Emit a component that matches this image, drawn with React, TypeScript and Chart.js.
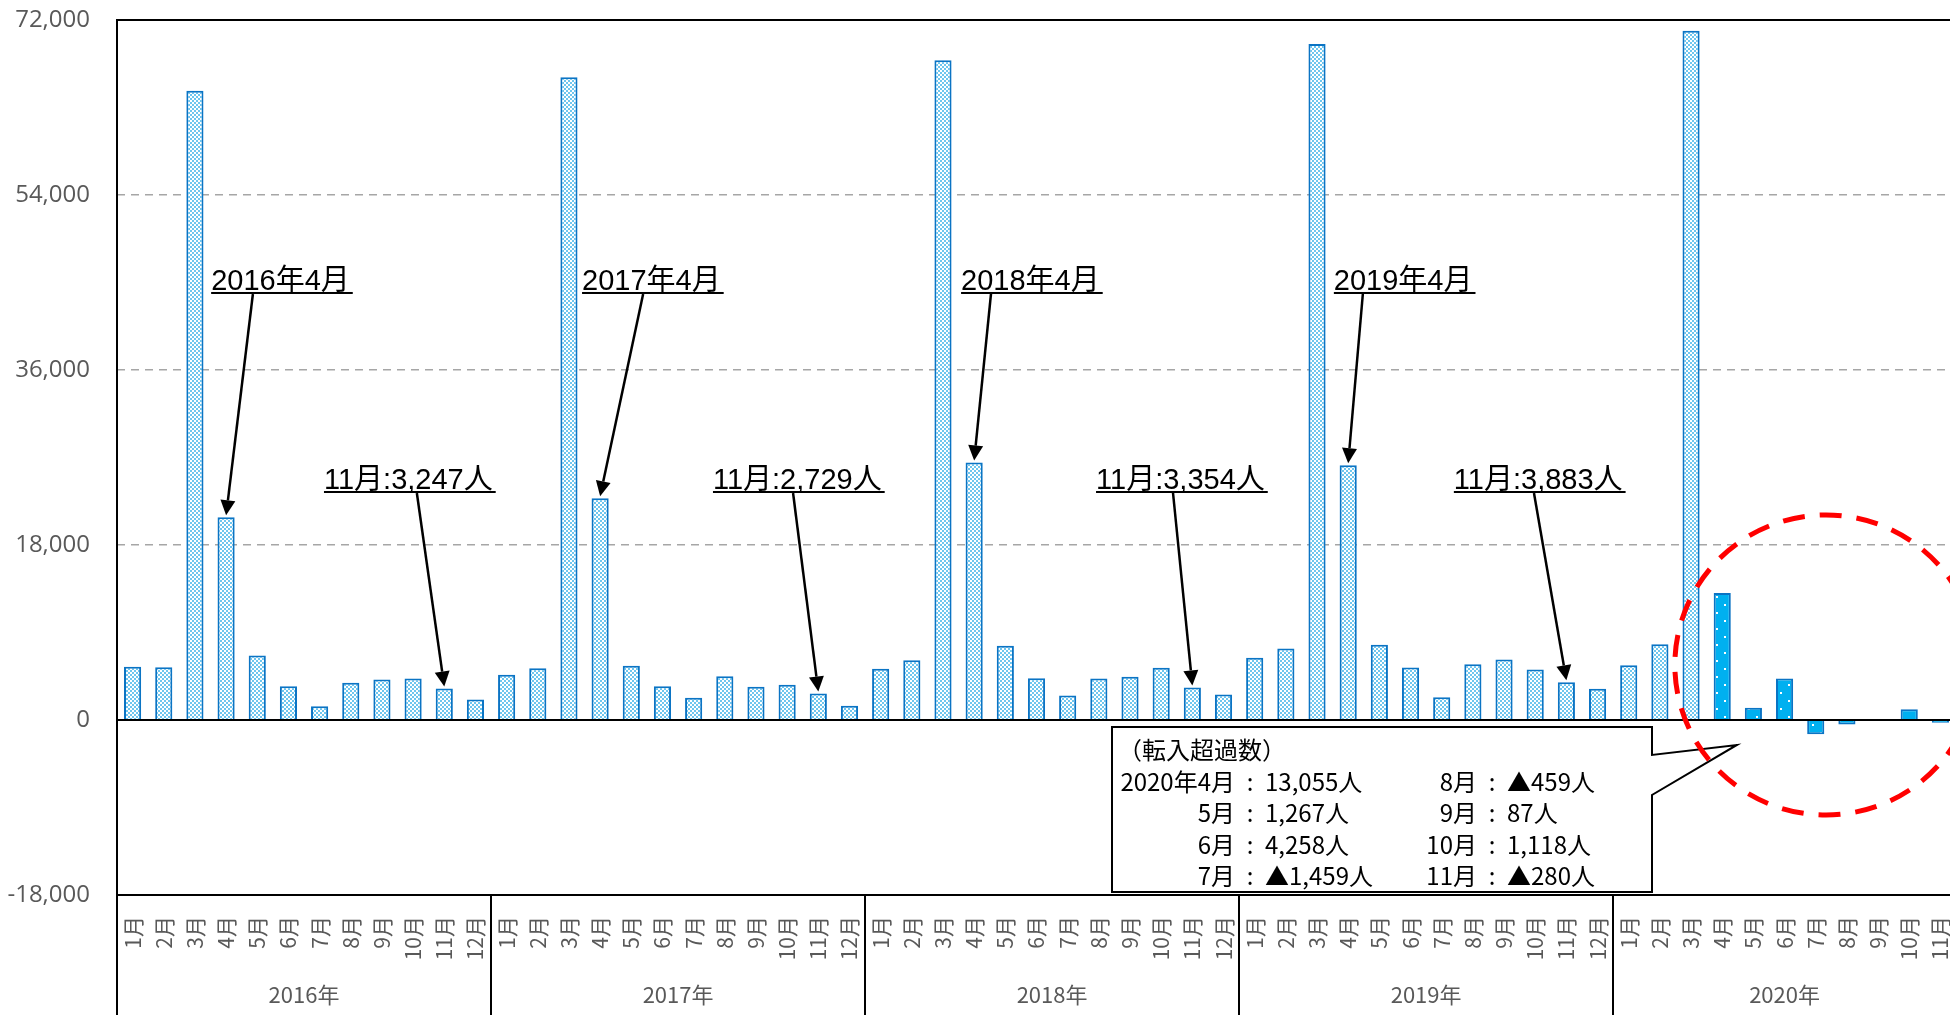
import React, { useEffect, useRef } from 'react';
import { Chart, registerables } from 'chart.js';

Chart.register(...registerables);

// ---------------- data ----------------
const monthNames = ['1月', '2月', '3月', '4月', '5月', '6月', '7月', '8月', '9月', '10月', '11月', '12月'];
const yearLabels = ['2016年', '2017年', '2018年', '2019年', '2020年'];

const y2016 = [5470, 5430, 64730, 20860, 6630, 3480, 1420, 3830, 4170, 4270, 3247, 2110];
const y2017 = [4650, 5330, 66100, 22810, 5570, 3480, 2280, 4510, 3410, 3620, 2729, 1460];
const y2018 = [5260, 6150, 67860, 26490, 7630, 4300, 2520, 4270, 4440, 5370, 3354, 2620];
const y2019 = [6400, 7350, 69530, 26210, 7730, 5400, 2350, 5740, 6220, 5190, 3883, 3210];
const y2020 = [5640, 7800, 70900, 13055, 1267, 4258, -1459, -459, 87, 1118, -280];

const yearValues = [y2016, y2017, y2018, y2019, y2020];

const yMin = -18000;
const yMax = 72000;
const yStep = 18000;

// first month (0-based) of 2020 drawn with the highlighted style
const highlightYear = 4;
const highlightMonth = 3;

// annotation labels: text anchor (category index, value), arrow start index, target bar
const yearNotes = [
  { year: 0, x: 2.52, y: 44230, from: 3.86, month: 3 },
  { year: 1, x: 14.42, y: 44230, from: 16.38, month: 3 },
  { year: 2, x: 26.58, y: 44230, from: 27.54, month: 3 },
  { year: 3, x: 38.54, y: 44230, from: 39.47, month: 3 },
];
const novNotes = [
  { year: 0, x: 6.14, y: 23760, from: 9.12, month: 10 },
  { year: 1, x: 18.62, y: 23760, from: 21.19, month: 10 },
  { year: 2, x: 30.91, y: 23760, from: 33.38, month: 10 },
  { year: 3, x: 42.39, y: 23760, from: 44.96, month: 10 },
];

const calloutTitle = '（転入超過数）';
const calloutLeftMonths = [3, 4, 5, 6];
const calloutRightMonths = [7, 8, 9, 10];
const callout = { left: 31.42, right: 48.75, top: -720, bottom: -17690, joinTop: -3600, joinBottom: -7710, tipX: 51.47, tipY: -2570 };
const circle = { x: 54.33, y: 5660, rx: 4.85, ry: 15430 };

// ---------------- helpers ----------------
const fmt = (v: number) => (v < 0 ? '▲' : '') + Math.abs(v).toLocaleString('en-US');

const labels: string[] = [];
const values: number[] = [];
yearValues.forEach((arr) => {
  arr.forEach((v, mi) => {
    labels.push(monthNames[mi]);
    values.push(v);
  });
});
const yearStart: number[] = [];
{
  let acc = 0;
  yearValues.forEach((a) => {
    yearStart.push(acc);
    acc += a.length;
  });
}
const idxOf = (year: number, month: number) => yearStart[year] + month;
const highlightIndex = idxOf(highlightYear, highlightMonth);

function makeChecker(ctx: CanvasRenderingContext2D) {
  const c = document.createElement('canvas');
  c.width = 4;
  c.height = 4;
  const g = c.getContext('2d')!;
  g.fillStyle = '#ffffff';
  g.fillRect(0, 0, 4, 4);
  g.fillStyle = '#6EC6EE';
  g.fillRect(0, 0, 2, 2);
  g.fillRect(2, 2, 2, 2);
  return ctx.createPattern(c, 'repeat')!;
}

function makeDots(ctx: CanvasRenderingContext2D) {
  const c = document.createElement('canvas');
  c.width = 16;
  c.height = 16;
  const g = c.getContext('2d')!;
  g.fillStyle = '#00B0F0';
  g.fillRect(0, 0, 16, 16);
  g.fillStyle = '#ffffff';
  g.fillRect(4, 4, 2, 2);
  g.fillRect(12, 12, 2, 2);
  return ctx.createPattern(c, 'repeat')!;
}

function drawArrow(ctx: CanvasRenderingContext2D, x1: number, y1: number, x2: number, y2: number) {
  const ang = Math.atan2(y2 - y1, x2 - x1);
  const head = 15;
  const hw = 7.5;
  const bx = x2 - head * Math.cos(ang);
  const by = y2 - head * Math.sin(ang);
  ctx.beginPath();
  ctx.moveTo(x1, y1);
  ctx.lineTo(bx, by);
  ctx.stroke();
  ctx.beginPath();
  ctx.moveTo(x2, y2);
  ctx.lineTo(bx + hw * Math.sin(ang), by - hw * Math.cos(ang));
  ctx.lineTo(bx - hw * Math.sin(ang), by + hw * Math.cos(ang));
  ctx.closePath();
  ctx.fill();
}

const decor = {
  id: 'decor',
  afterDatasetsDraw(chart: any) {
    const { ctx, chartArea: a, scales } = chart;
    const x = scales.x;
    const y = scales.y;
    const H = chart.height;
    ctx.save();

    // frame / zero lines
    ctx.strokeStyle = '#000';
    ctx.lineWidth = 2;
    ctx.setLineDash([]);
    [yMax, 0, yMin].forEach((v) => {
      const py = Math.round(y.getPixelForValue(v));
      ctx.beginPath();
      ctx.moveTo(a.left, py);
      ctx.lineTo(a.right, py);
      ctx.stroke();
    });
    ctx.beginPath();
    ctx.moveTo(a.left, a.top - 1);
    ctx.lineTo(a.left, H);
    ctx.stroke();

    // year dividers and labels
    ctx.font = '22px "Noto Sans CJK JP", sans-serif';
    ctx.fillStyle = '#595959';
    ctx.textAlign = 'center';
    ctx.textBaseline = 'middle';
    yearValues.forEach((arr, yi) => {
      const s = yearStart[yi];
      if (yi > 0) {
        const px = Math.round(x.getPixelForValue(s - 0.5));
        ctx.beginPath();
        ctx.moveTo(px, a.bottom);
        ctx.lineTo(px, H);
        ctx.stroke();
      }
      const c1 = x.getPixelForValue(s - 0.5);
      const c2 = x.getPixelForValue(s + arr.length - 0.5);
      ctx.fillText(yearLabels[yi], (c1 + c2) / 2, a.bottom + 100);
    });

    // arrow annotations
    ctx.fillStyle = '#000';
    ctx.strokeStyle = '#000';
    ctx.lineWidth = 2.5;
    ctx.textAlign = 'left';
    ctx.textBaseline = 'alphabetic';
    ctx.font = '29px "Liberation Sans", "Noto Sans CJK JP", sans-serif';
    const notes = [
      ...yearNotes.map((n) => ({ ...n, text: `${yearLabels[n.year]}${monthNames[n.month]}` })),
      ...novNotes.map((n) => ({ ...n, text: `${monthNames[n.month]}:${yearValues[n.year][n.month].toLocaleString('en-US')}人` })),
    ];
    notes.forEach((n) => {
      const tx = x.getPixelForValue(n.x);
      const ty = y.getPixelForValue(n.y);
      ctx.fillText(n.text, tx, ty);
      const w = ctx.measureText(n.text).width;
      ctx.fillRect(tx, ty + 2, w + 3, 2);
      const bi = idxOf(n.year, n.month);
      const ax = x.getPixelForValue(n.from);
      const bx = x.getPixelForValue(bi);
      const by = y.getPixelForValue(values[bi]) - 2;
      drawArrow(ctx, ax, ty + 4, bx, by);
    });

    // callout box
    const L = Math.round(x.getPixelForValue(callout.left));
    const R = Math.round(x.getPixelForValue(callout.right));
    const T = Math.round(y.getPixelForValue(callout.top));
    const B = Math.round(y.getPixelForValue(callout.bottom));
    const j1 = y.getPixelForValue(callout.joinTop);
    const j2 = y.getPixelForValue(callout.joinBottom);
    const tx = x.getPixelForValue(callout.tipX);
    const ty = y.getPixelForValue(callout.tipY);
    ctx.beginPath();
    ctx.moveTo(L, T);
    ctx.lineTo(R, T);
    ctx.lineTo(R, j1);
    ctx.lineTo(tx, ty);
    ctx.lineTo(R, j2);
    ctx.lineTo(R, B);
    ctx.lineTo(L, B);
    ctx.closePath();
    ctx.fillStyle = '#fff';
    ctx.fill();
    ctx.lineWidth = 2;
    ctx.strokeStyle = '#000';
    ctx.lineJoin = 'miter';
    ctx.stroke();

    ctx.fillStyle = '#000';
    ctx.font = '24px "Noto Sans CJK JP", sans-serif';
    ctx.textBaseline = 'middle';
    ctx.textAlign = 'left';
    const row0 = T + 23;
    const rowH = 31.5;
    ctx.fillText(calloutTitle, L + 6, row0);
    const col1 = L + 138;
    const col2 = L + 380;
    const drawRow = (colX: number, month: number, r: number, first: boolean) => {
      const ry = row0 + rowH * (r + 1);
      const lab = (first ? yearLabels[highlightYear] : '') + monthNames[month];
      ctx.textAlign = 'right';
      ctx.fillText(lab, colX - 15, ry);
      ctx.textAlign = 'center';
      ctx.fillText(':', colX, ry);
      ctx.textAlign = 'left';
      ctx.fillText(fmt(y2020[month]) + '人', colX + 15, ry);
    };
    calloutLeftMonths.forEach((m, r) => drawRow(col1, m, r, r === 0));
    calloutRightMonths.forEach((m, r) => drawRow(col2, m, r, false));

    // red dashed circle
    const cx = x.getPixelForValue(circle.x);
    const cy = y.getPixelForValue(circle.y);
    const rx = x.getPixelForValue(circle.x + circle.rx) - cx;
    const ry = cy - y.getPixelForValue(circle.y + circle.ry);
    ctx.beginPath();
    ctx.ellipse(cx, cy, rx, ry, 0, 0, Math.PI * 2);
    ctx.strokeStyle = '#FF0000';
    ctx.lineWidth = 5;
    ctx.setLineDash([22, 15]);
    ctx.stroke();

    ctx.restore();
  },
};

export default function App() {
  const ref = useRef<HTMLCanvasElement>(null);
  useEffect(() => {
    const canvas = ref.current!;
    const ctx = canvas.getContext('2d')!;
    const checker = makeChecker(ctx);
    const dots = makeDots(ctx);
    const chart = new Chart(canvas, {
      type: 'bar',
      data: {
        labels,
        datasets: [
          {
            data: values,
            backgroundColor: (c: any) => (c.dataIndex >= highlightIndex ? dots : checker),
            borderColor: '#0B74C4',
            borderWidth: 2,
            barPercentage: 0.55,
            categoryPercentage: 1,
          },
        ],
      },
      options: {
        responsive: false,
        animation: false,
        devicePixelRatio: 1,
        layout: { padding: { top: 20, right: 14, bottom: 0, left: 0 } },
        plugins: { legend: { display: false }, tooltip: { enabled: false } },
        scales: {
          x: {
            type: 'category',
            offset: true,
            grid: { display: false, drawTicks: false },
            border: { display: false },
            ticks: {
              autoSkip: false,
              minRotation: 90,
              maxRotation: 90,
              padding: 21,
              color: '#595959',
              font: { family: '"Noto Sans CJK JP", sans-serif', size: 21 },
            },
            afterFit: (s: any) => {
              s.height = 120;
              s.paddingLeft = 0;
              s.paddingRight = 0;
            },
          },
          y: {
            min: yMin,
            max: yMax,
            grid: {
              color: (c: any) => (c.tick && (c.tick.value === 0 || c.tick.value === yMin || c.tick.value === yMax) ? 'rgba(0,0,0,0)' : '#A6A6A6'),
              lineWidth: 1.5,
              drawTicks: false,
            },
            border: { display: false, dash: [8, 6] },
            ticks: {
              stepSize: yStep,
              padding: 27,
              color: '#595959',
              font: { family: '"Open Sans", sans-serif', size: 24 },
              callback: (v: any) => Number(v).toLocaleString('en-US'),
            },
            afterFit: (s: any) => {
              s.width = 117;
              s.paddingTop = 0;
              s.paddingBottom = 0;
            },
          },
        },
      },
      plugins: [decor],
    } as any);
    return () => chart.destroy();
  }, []);
  return (
    <div style={{ position: 'fixed', left: 0, top: 0, width: 1950, height: 1015, overflow: 'hidden', background: '#fff' }}>
      <canvas ref={ref} width={1970} height={1015} style={{ display: 'block', width: 1970, height: 1015 }} />
    </div>
  );
}
